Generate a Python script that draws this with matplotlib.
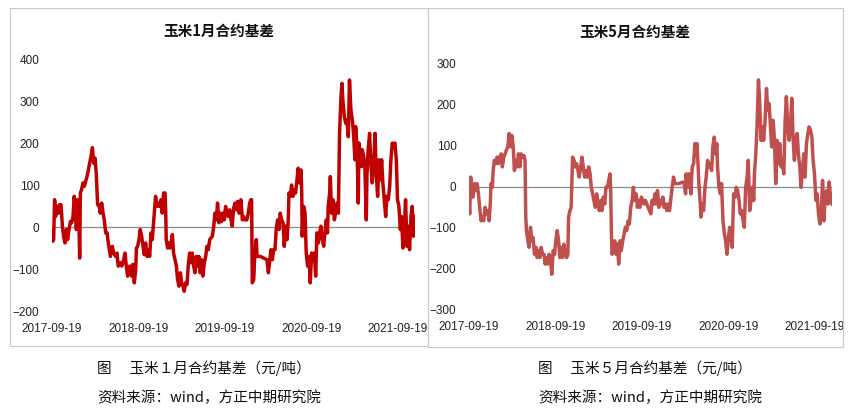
import matplotlib
matplotlib.use("Agg")
import matplotlib.pyplot as plt
import matplotlib.dates as mdates
from matplotlib.patches import Rectangle
import pandas as pd

plt.rcParams['font.family'] = ['Noto Sans CJK SC', 'DejaVu Sans']

START = pd.Timestamp("2017-09-19")
TICK_DATES = ["2017-09-19", "2018-09-19", "2019-09-19", "2020-09-19", "2021-09-19"]

# 玉米1月合约基差: day offset from 2017-09-19, basis in yuan/ton
jan_days = [
    0, 3, 7, 11, 15, 21, 27, 32, 38, 44,
    49, 55, 61, 66, 72, 78, 83, 89, 94, 100,
    103, 107, 113, 117, 120, 125, 131, 137, 142, 148,
    154, 159, 165, 171, 176, 182, 187, 193, 199, 204,
    210, 216, 221, 227, 233, 238, 247, 255, 261, 269,
    275, 280, 289, 295, 303, 309, 314, 320, 328, 337,
    342, 348, 354, 357, 362, 368, 373, 379, 385, 390,
    396, 402, 407, 413, 419, 424, 430, 435, 438, 444,
    450, 455, 461, 466, 472, 478, 481, 483, 489, 495,
    500, 506, 509, 514, 520, 526, 531, 537, 543, 548,
    554, 559, 565, 571, 576, 582, 588, 593, 599, 605,
    610, 616, 621, 627, 633, 638, 644, 650, 655, 661,
    667, 672, 678, 684, 689, 695, 700, 706, 712, 717,
    723, 729, 734, 740, 745, 751, 757, 762, 768, 774,
    779, 785, 791, 796, 799, 805, 810, 816, 824, 830,
    836, 841, 844, 847, 853, 858, 864, 867, 881, 895,
    909, 915, 920, 926, 932, 937, 943, 948, 954, 960,
    965, 971, 977, 982, 988, 994, 999, 1002, 1008, 1013,
    1019, 1025, 1030, 1036, 1041, 1047, 1053, 1056, 1058, 1064,
    1070, 1075, 1081, 1087, 1092, 1098, 1104, 1109, 1115, 1120,
    1126, 1132, 1137, 1143, 1149, 1154, 1160, 1165, 1168, 1174,
    1177, 1182, 1188, 1194, 1199, 1205, 1211, 1216, 1222, 1226,
    1230, 1236, 1242, 1247, 1253, 1258, 1264, 1270, 1275, 1281,
    1284, 1290, 1295, 1298, 1304, 1309, 1312, 1318, 1323, 1329,
    1332, 1337, 1343, 1349, 1354, 1360, 1366, 1371, 1377, 1383,
    1388, 1394, 1399, 1405, 1411, 1416, 1422, 1428, 1433, 1439,
    1444, 1450, 1456, 1461, 1467, 1473, 1478, 1484, 1490, 1495,
    1501, 1506, 1512, 1518, 1523, 1529, 1535,
]
jan_basis = [
    -6, -34, -30, 65, 25, 50, 33, 53, 53, 2,
    -22, -38, -6, -30, -6, 13, 10, 25, 73, 33,
    -6, 65, 41, -74, 81, 89, 105, 97, 108, 120,
    136, 152, 168, 189, 152, 164, 128, 53, 53, 33,
    57, 33, 17, -14, -14, -38, -70, -46, -62, -70,
    -62, -93, -85, -93, -78, -62, -93, -117, -93, -117,
    -89, -133, -101, -50, -46, -30, -6, -22, -46, -66,
    -38, -70, -54, -70, -14, -30, 13, 49, 73, 49,
    57, 49, 65, 33, 81, 81, 33, -30, -50, -38,
    -50, -30, -18, -62, -78, -93, -125, -141, -109, -133,
    -141, -153, -133, -137, -93, -62, -85, -62, -93, -109,
    -70, -93, -70, -109, -78, -117, -85, -70, -46, -54,
    -30, -26, -22, 2, 33, 17, 57, 10, 33, 13,
    33, 17, 49, 33, 25, 41, 17, 2, 45, 57,
    41, 61, 33, 53, 65, 17, 25, 17, 17, 33,
    57, 65, 65, -133, -125, -62, -30, -70, -70, -74,
    -78, -109, -85, -54, -78, -54, -54, -6, 17, -6,
    33, 17, 10, -46, 2, -30, 17, 81, 73, 100,
    73, 89, 81, 112, 140, 105, 136, 81, -22, 49,
    33, -62, -93, -70, -133, -62, -78, -62, -117, -14,
    -38, -14, 2, -30, -46, -14, 17, -14, 49, 81,
    120, 33, 65, 17, 33, 57, 33, 223, 310, 342,
    302, 263, 247, 255, 215, 350, 279, 255, 223, 160,
    239, 184, 57, 200, 168, 144, 184, 168, 144, 17,
    128, 184, 223, 144, 105, 144, 223, 128, 73, 160,
    112, 160, 105, 65, 25, 73, 65, 97, 160, 200,
    192, 200, 160, 65, 49, -6, 25, -50, -6, 65,
    -46, 2, -54, 25, 49, -22, 25,
]

# 玉米5月合约基差
may_days = [
    0, 3, 7, 11, 17, 23, 28, 34, 40, 45,
    51, 57, 62, 68, 73, 79, 85, 90, 93, 99,
    102, 107, 113, 119, 124, 130, 136, 141, 147, 153,
    158, 164, 170, 175, 181, 187, 192, 198, 203, 209,
    215, 220, 226, 232, 237, 240, 243, 249, 254, 260,
    266, 271, 277, 283, 288, 294, 300, 305, 311, 317,
    322, 328, 333, 339, 345, 350, 356, 362, 367, 373,
    379, 384, 390, 396, 401, 407, 413, 418, 421, 427,
    432, 438, 444, 449, 455, 461, 466, 472, 478, 483,
    489, 495, 500, 506, 512, 517, 523, 528, 534, 540,
    545, 551, 557, 562, 568, 574, 579, 585, 591, 596,
    599, 602, 605, 610, 616, 622, 627, 633, 639, 644,
    650, 656, 661, 667, 673, 678, 684, 690, 695, 701,
    707, 712, 718, 723, 729, 735, 740, 746, 752, 757,
    763, 769, 774, 780, 786, 791, 797, 803, 808, 814,
    820, 825, 831, 837, 842, 848, 853, 859, 865, 870,
    887, 904, 910, 916, 918, 924, 930, 935, 938, 944,
    950, 955, 961, 964, 969, 972, 978, 981, 986, 992,
    998, 1003, 1009, 1015, 1020, 1026, 1031, 1037, 1043, 1048,
    1051, 1057, 1063, 1068, 1074, 1080, 1085, 1091, 1096, 1102,
    1108, 1113, 1119, 1125, 1130, 1136, 1142, 1147, 1153, 1159,
    1164, 1170, 1176, 1181, 1187, 1193, 1198, 1204, 1207, 1212,
    1218, 1224, 1229, 1235, 1241, 1246, 1252, 1258, 1263, 1269,
    1275, 1280, 1286, 1292, 1297, 1303, 1308, 1314, 1320, 1325,
    1331, 1337, 1342, 1348, 1354, 1359, 1365, 1371, 1376, 1382,
    1388, 1393, 1399, 1404, 1410, 1416, 1421, 1427, 1433, 1438,
    1444, 1450, 1455, 1461, 1467, 1472, 1478, 1484, 1489, 1495,
    1501, 1506, 1512, 1518, 1523, 1529, 1535,
]
may_basis = [
    -43, -67, 23, -2, -26, 7, -10, 7, -18, -51,
    -84, -75, -84, -51, -67, -59, -84, -43, 7, -2,
    39, 64, 56, 72, 56, 72, 80, 48, 72, 80,
    89, 97, 130, 97, 125, 97, 39, 64, 48, 80,
    48, 80, 72, 76, 64, -75, -108, -133, -149, -100,
    -133, -125, -166, -149, -174, -157, -174, -149, -166, -166,
    -190, -174, -190, -166, -182, -215, -157, -166, -133, -108,
    -133, -174, -149, -174, -141, -166, -174, -166, -75, -59,
    -51, 72, 64, 48, 56, 39, 23, 48, 72, 48,
    23, 39, 23, 48, 31, -2, -18, -34, -51, -18,
    -43, -59, -34, -59, -26, -43, -2, -2, 15, 31,
    -2, -108, -166, -149, -133, -166, -141, -190, -133, -157,
    -133, -116, -100, -108, -84, -92, -51, -34, -2, -34,
    -18, -51, -34, -51, -26, -34, -43, -34, -43, -51,
    -59, -67, -34, -43, -18, -43, -10, -51, -34, -43,
    -26, -51, -43, -59, -43, -59, -34, -2, 23, 7,
    7, 11, 7, -18, 31, -2, 31, 15, -18, 48,
    56, 105, 89, 105, 48, 7, -43, -75, -43, -59,
    -2, 23, 64, 48, 56, 39, 97, 121, 80, 105,
    48, -2, -18, 7, -84, -116, -133, -166, -133, -100,
    -116, -149, -18, -26, -2, -10, -34, -67, -59, -84,
    -100, -2, 23, 64, -59, -34, -2, -34, 31, 72,
    146, 261, 211, 113, 146, 113, 162, 240, 187, 203,
    146, 97, 162, 113, 7, 113, 56, 105, 48, 64,
    31, 162, 220, 146, 113, 146, 216, 113, 64, 113,
    130, 80, 48, -2, 39, 80, 23, 105, 130, 146,
    138, 121, 64, 31, -34, -18, -67, -92, -75, 15,
    -84, -26, -10, -43, 11, -26, -43,
]

jan_titles = ("玉米1月合约基差", "图　 玉米１月合约基差（元/吨）")
may_titles = ("玉米5月合约基差", "图　 玉米５月合约基差（元/吨）")
source_text = "资料来源：wind，方正中期研究院"

W, H = 858, 420
fig = plt.figure(figsize=(W / 100, H / 100), dpi=100)


def fx(px):
    return px / W


def fy(py):
    return 1 - py / H


def draw_panel(left, right, top, bottom, days, vals, ylim, yticks, color, title, cx, ty):
    ax = fig.add_axes([fx(left), fy(bottom), fx(right - left), fy(top) - fy(bottom)])
    dates = START + pd.to_timedelta(days, unit="D")
    ax.axhline(0, color="#8c8c8c", lw=0.9, zorder=1)
    ax.plot(dates, vals, color=color, lw=2.5, zorder=2, solid_joinstyle="round")
    ax.set_xlim(START, START + pd.Timedelta(days=max(days)))
    ax.set_ylim(*ylim)
    ax.set_yticks(yticks)
    ax.set_xticks(pd.to_datetime(TICK_DATES))
    ax.xaxis.set_major_formatter(mdates.DateFormatter("%Y-%m-%d"))
    for s in ax.spines.values():
        s.set_visible(False)
    ax.tick_params(axis="both", length=0, labelsize=8.5, colors="#222222")
    ax.tick_params(axis="y", pad=9)
    ax.tick_params(axis="x", pad=8.5)
    for lab in ax.get_xticklabels() + ax.get_yticklabels():
        lab.set_family(["Liberation Sans", "DejaVu Sans"])
    fig.text(fx(cx), fy(ty), title, ha="center", va="center",
             fontsize=10.5, fontweight="bold", color="#111111")
    return ax


draw_panel(52, 415, 59, 311, jan_days, jan_basis, (-200, 400),
           range(-200, 401, 100), "#C00000", jan_titles[0], 219, 31)
draw_panel(469, 832, 64, 309, may_days, may_basis, (-300, 300),
           range(-300, 301, 100), "#C0504D", may_titles[0], 635, 32)

# panel frames
fig.patches.append(Rectangle((fx(10), fy(346)), fx(418), 338 / H, fill=False,
                             edgecolor="#c8c8c8", lw=0.8, transform=fig.transFigure))
fig.patches.append(Rectangle((fx(428), fy(347)), fx(415), 339 / H, fill=False,
                             edgecolor="#c8c8c8", lw=0.8, transform=fig.transFigure))

# captions under each panel
for x0, cap in [(97, jan_titles[1]), (538, may_titles[1])]:
    fig.text(fx(x0), fy(368), cap, ha="left", va="center", fontsize=10.5, color="#111111")
    fig.text(fx(x0), fy(398), source_text, ha="left", va="center", fontsize=10.5, color="#111111")

fig.savefig("out.png", dpi=100)
